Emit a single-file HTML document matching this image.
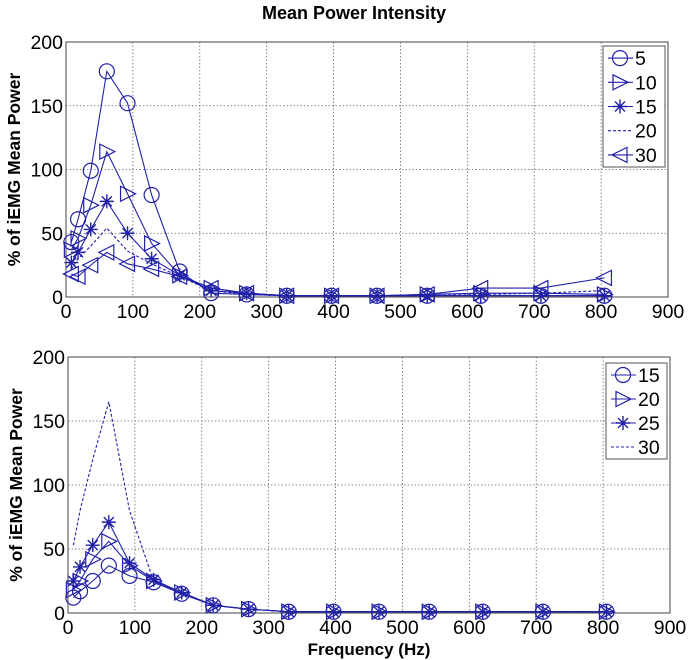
<!DOCTYPE html>
<html><head><meta charset="utf-8"><style>
body{margin:0;background:#fff;}
svg{display:block;font-family:"Liberation Sans",Arial,sans-serif;}
</style></head><body>
<svg id="chart" width="689" height="660" viewBox="0 0 689 660">
<text x="354" y="19" text-anchor="middle" font-size="18" font-weight="bold">Mean Power Intensity</text>
</svg>
<script>
const freqs=[8,18,37,61,92,128,170,217,270,330,397,465,540,620,710,805];
const topLabels=["5","10","15","20","30"];
const topS5=[43,61,99,177,152,80,20,3,2,1,1,1,1,1,1,1];
const topS10=[37,46,72,114,81,42,17,7,3,1,1,1,2,3,3,2];
const topS15=[27,35,53,75,50,30,17,5,3,1,1,1,1,1,1,1];
const topS20=[22,30,40,54,36,26,16,5,2,1,1,1,1,2,3,5];
const topS30=[18,16,25,35,26,22,16,7,3,1,1,1,2,7,7,15];
const botLabels=["15","20","25","30"];
const botS15=[12,17,25,37,29,24,15,6,3,1,1,1,1,1,1,1];
const botS20=[18,25,42,56,37,25,16,6,3,1,1,1,1,1,1,1];
const botS25=[25,36,53,71,39,26,16,6,3,1,1,1,1,1,1,1];
const botS30=[53,80,120,165,80,25,16,6,3,1,1,1,1,1,1,1];
const xTicks=[0,100,200,300,400,500,600,700,800,900];
const yTicks=[0,50,100,150,200];

const NS="http://www.w3.org/2000/svg";
const svg=document.getElementById('chart');
const C="#2020a8";
function mk(tag,attrs,parent){const e=document.createElementNS(NS,tag);for(const k in attrs)e.setAttribute(k,attrs[k]);(parent||svg).appendChild(e);return e;}

function marker(g,type,x,y){
  if(type==='o'){const e=mk('circle',{cx:x,cy:y,r:7.5,fill:'none',stroke:C,'stroke-width':1.2},g);}
  else if(type==='>'){const e=mk('polygon',{points:`${x-7},${y-7.5} ${x+8},${y} ${x-7},${y+7.5}`,fill:'none',stroke:C,'stroke-width':1.2},g);}
  else if(type==='<'){const e=mk('polygon',{points:`${x+7},${y-7.5} ${x-8},${y} ${x+7},${y+7.5}`,fill:'none',stroke:C,'stroke-width':1.2},g);}
  else if(type==='*'){const e=mk('path',{d:`M${x-7},${y}H${x+7}M${x},${y-7}V${y+7}M${x-5},${y-5}L${x+5},${y+5}M${x-5},${y+5}L${x+5},${y-5}`,stroke:C,'stroke-width':1.4},g);}
}

function panel(name,L,R,T,B,series,labels,types,dashes,leg,showX){
  const sx=v=>L+(v/900)*(R-L), sy=v=>B-(v/200)*(B-T);
  const g=mk('g',{});
  
  
  for(const t of xTicks){if(t>0&&t<900){const l=mk('line',{x1:sx(t),x2:sx(t),y1:T,y2:B,stroke:'#666','stroke-width':0.8,'stroke-dasharray':'1.5,2'},g);}
    const tx=mk('text',{x:sx(t),y:B+21,'text-anchor':'middle','font-size':19.5},g);tx.textContent=t;}
  for(const t of yTicks){if(t>0&&t<200){const l=mk('line',{x1:L,x2:R,y1:sy(t),y2:sy(t),stroke:'#666','stroke-width':0.8,'stroke-dasharray':'1.5,2'},g);}
    const tx=mk('text',{x:L-3,y:sy(t)+7,'text-anchor':'end','font-size':19.5},g);tx.textContent=t;}
  const ax=mk('rect',{x:L,y:T,width:R-L,height:B-T,fill:'none',stroke:'#444','stroke-width':1},g);
  
  const yl=mk('text',{x:0,y:0,transform:`translate(${L-46},${(T+B)/2}) rotate(-90)`,'text-anchor':'middle','font-size':17.5,'font-weight':'bold'},g);
  yl.textContent='% of iEMG Mean Power';
  series.forEach((s,i)=>{
    const pts=s.map((v,j)=>sx(freqs[j])+','+sy(v)).join(' ');
    const pl=mk('polyline',{points:pts,fill:'none',stroke:C,'stroke-width':1.1,'stroke-dasharray':dashes[i]},g);
    
    if(types[i])s.forEach((v,j)=>marker(g,types[i],sx(freqs[j]),sy(v)));
  });
  const lg=mk('g',{},g);
  const rh=(leg.b-leg.t)/labels.length;
  mk('rect',{x:leg.l,y:leg.t,width:leg.r-leg.l,height:leg.b-leg.t,fill:'#fff',stroke:'#555','stroke-width':1},lg);
  labels.forEach((lb,i)=>{
    const cy=leg.t+rh*(i+0.5);
    const le=mk('g',{},lg);
    mk('line',{x1:leg.l+5,x2:leg.l+30,y1:cy,y2:cy,stroke:C,'stroke-width':1.1,'stroke-dasharray':dashes[i]},le);
    if(types[i])marker(le,types[i],leg.l+17,cy);
    const tx=mk('text',{x:leg.l+32,y:cy+7,'font-size':19.5},le);tx.textContent=lb;
  });
  if(showX){const xl=mk('text',{x:(L+R)/2,y:B+42,'text-anchor':'middle','font-size':17,'font-weight':'bold'},g);xl.textContent='Frequency (Hz)';}
}
panel('top-panel',66,668,42,297,[topS5,topS10,topS15,topS20,topS30],topLabels,['o','>','*',null,'<'],['none','none','none','3,2','none'],{l:603,r:665,t:46,b:167},false);
panel('bottom-panel',68,670,357,613,[botS15,botS20,botS25,botS30],botLabels,['o','>','*',null],['none','none','none','3,2'],{l:606,r:667,t:363,b:459},true);
</script>
</body></html>
